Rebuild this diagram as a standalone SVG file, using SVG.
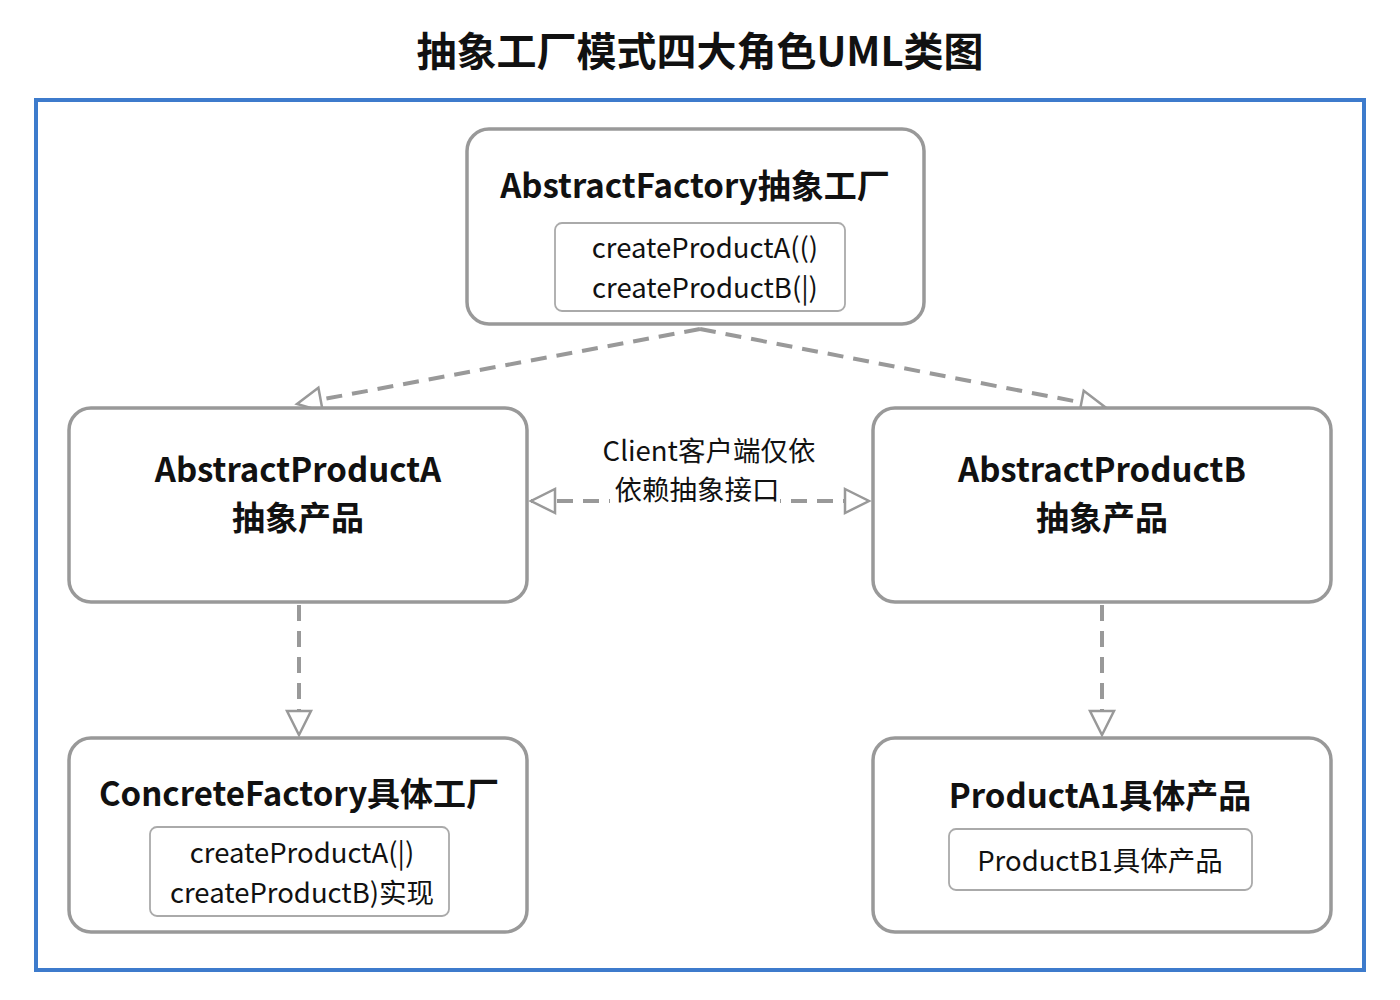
<svg xmlns="http://www.w3.org/2000/svg" width="1400" height="1000" viewBox="0 0 1400 1000">
<defs>
<style>
.node{fill:#fff;stroke:#999;stroke-width:3.5}
.inner{fill:#fff;stroke:#aaa;stroke-width:1.8}
.t{font-family:"Noto Sans CJK SC","Noto Sans",sans-serif;fill:#111;text-anchor:middle}
.b{font-weight:bold;font-size:33px}
.m{font-size:27.5px}
.c{fill:none;stroke:#999;stroke-width:4;stroke-dasharray:16 10}
</style>
<marker id="tri" markerUnits="userSpaceOnUse" markerWidth="30" markerHeight="30" refX="25" refY="13" orient="auto-start-reverse" viewBox="-2 -2 30 30">
<path d="M1,1 L25,13 L1,25 Z" fill="#fff" stroke="#999" stroke-width="2.5" stroke-dasharray="none"/>
</marker>
</defs>
<rect x="0" y="0" width="1400" height="1000" fill="#fff"/>
<text class="t" x="700" y="66" style="font-weight:bold;font-size:40px">抽象工厂模式四大角色UML类图</text>
<rect x="36" y="100" width="1328" height="870" fill="none" stroke="#3d7bcc" stroke-width="4"/>

<g id="connectors">
<path class="c" d="M700,329 L297,404" marker-end="url(#tri)"/>
<path class="c" d="M700,329 L1105,407" marker-end="url(#tri)"/>
<path class="c" d="M531,501 L869,501" marker-start="url(#tri)" marker-end="url(#tri)"/>
<path class="c" d="M299,605 L299,735" marker-end="url(#tri)"/>
<path class="c" d="M1102,605 L1102,735" marker-end="url(#tri)"/>
<rect x="610" y="476" width="170" height="36" fill="#fff"/>
<text class="t m" x="709" y="461">Client客户端仅依</text>
<text class="t m" x="697" y="500">依赖抽象接口</text>
</g>

<g id="abstractFactory">
<rect class="node" x="467" y="129" width="457" height="195" rx="22"/>
<text class="t b" x="695" y="198">AbstractFactory抽象工厂</text>
<rect class="inner" x="555" y="223" width="290" height="88" rx="7"/>
<text class="t m" x="705" y="258">createProductA(()</text>
<text class="t m" x="705" y="298">createProductB(|)</text>
</g>

<g id="abstractProductA">
<rect class="node" x="69" y="408" width="458" height="194" rx="22"/>
<text class="t b" x="298" y="482">AbstractProductA</text>
<text class="t b" x="298" y="530">抽象产品</text>
</g>

<g id="abstractProductB">
<rect class="node" x="873" y="408" width="458" height="194" rx="22"/>
<text class="t b" x="1102" y="482">AbstractProductB</text>
<text class="t b" x="1102" y="530">抽象产品</text>
</g>

<g id="concreteFactory">
<rect class="node" x="69" y="738" width="458" height="194" rx="22"/>
<text class="t b" x="299" y="806">ConcreteFactory具体工厂</text>
<rect class="inner" x="150" y="827" width="299" height="89" rx="7"/>
<text class="t m" x="302" y="863">createProductA(|)</text>
<text class="t m" x="302" y="903">createProductB)实现</text>
</g>

<g id="productA1">
<rect class="node" x="873" y="738" width="458" height="194" rx="22"/>
<text class="t b" x="1100" y="808">ProductA1具体产品</text>
<rect class="inner" x="949" y="829" width="303" height="61" rx="7"/>
<text class="t m" x="1100" y="871">ProductB1具体产品</text>
</g>
</svg>
